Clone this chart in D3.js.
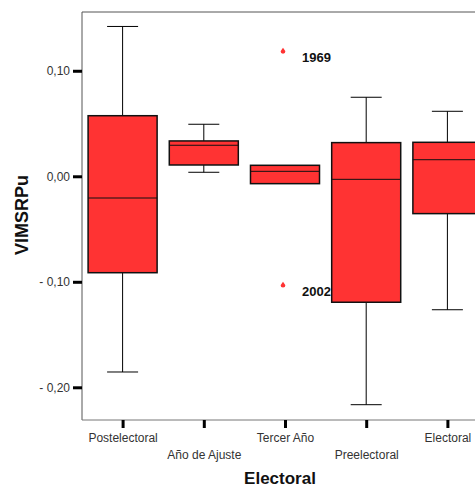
<!DOCTYPE html>
<html>
<head>
<meta charset="utf-8">
<script src="https://cdn.jsdelivr.net/npm/d3@7"></script>
<style>
  body { margin: 0; background: #fff; }
  svg { display: block; font-family: "Liberation Sans", Arial, sans-serif; }
</style>
</head>
<body>
<div id="chart"></div>
<script>
// categories and box statistics
var categories = ["Postelectoral", "Año de Ajuste", "Tercer Año", "Preelectoral", "Electoral"];
var whiskerLow  = [-0.1855, 0.0038, -0.0070, -0.2165, -0.1265];
var q1          = [-0.0914, 0.0107, -0.0070, -0.1194, -0.0354];
var medians     = [-0.0206, 0.0294,  0.0047, -0.0029,  0.0157];
var q3          = [ 0.0574, 0.0335,  0.0104,  0.0319,  0.0322];
var whiskerHigh = [ 0.1420, 0.0493,  0.0104,  0.0749,  0.0616];

var outliers = [
  { cat: "Tercer Año", value: 0.118, label: "1969" },
  { cat: "Tercer Año", value: -0.1037, label: "2002" }
];

var yTicks = [-0.20, -0.10, 0.00, 0.10];

var boxes = categories.map(function (c, i) {
  return { cat: c, lo: whiskerLow[i], q1: q1[i], med: medians[i], q3: q3[i], hi: whiskerHigh[i] };
});

var W = 475, H = 488;
var plotLeft = 82, plotTop = 12, plotBottom = 420, plotRight = 488;

var svg = d3.select("#chart").append("svg")
  .attr("width", W)
  .attr("height", H);

var y = d3.scaleLinear()
  .domain([-0.231, 0.1557])
  .range([plotBottom, plotTop]);

var x = d3.scalePoint()
  .domain(categories)
  .range([plotLeft, plotRight])
  .padding(0.5);

var boxW = x.step() * 0.85;
var capW = 31;

// frame
svg.append("path")
  .attr("d", "M" + plotLeft + "," + plotBottom + "V" + plotTop + "H" + plotRight)
  .attr("fill", "none")
  .attr("stroke", "#555")
  .attr("stroke-width", 1);
svg.append("line")
  .attr("x1", plotLeft).attr("x2", plotRight)
  .attr("y1", plotBottom).attr("y2", plotBottom)
  .attr("stroke", "#777")
  .attr("stroke-width", 1);

// y axis
var yAxis = d3.axisLeft(y)
  .tickValues(yTicks)
  .tickSize(9)
  .tickPadding(3)
  .tickFormat(function (d) { return d3.format(".2f")(d).replace(".", ",").replace("−", "- "); });

var gy = svg.append("g")
  .attr("transform", "translate(" + plotLeft + ",0)")
  .call(yAxis);
gy.select(".domain").remove();
gy.selectAll(".tick line").attr("stroke", "#000").attr("stroke-width", 3);
gy.selectAll(".tick text")
  .attr("fill", "#333")
  .style("font-size", "12px")
  .style("font-family", "Liberation Sans, Arial, sans-serif");

// x axis
var xAxis = d3.axisBottom(x)
  .tickSize(8)
  .tickPadding(5);

var gx = svg.append("g")
  .attr("transform", "translate(0," + plotBottom + ")")
  .call(xAxis);
gx.select(".domain").remove();
gx.selectAll(".tick line").attr("stroke", "#000").attr("stroke-width", 3);
gx.selectAll(".tick text")
  .attr("fill", "#333")
  .style("font-size", "12px")
  .style("font-family", "Liberation Sans, Arial, sans-serif")
  .attr("y", function (d, i) { return i % 2 === 0 ? 13 : 30; });

// boxes
var g = svg.append("g");

var item = g.selectAll(".box")
  .data(boxes)
  .enter()
  .append("g")
  .attr("class", "box");

// whiskers
item.append("line")
  .attr("x1", function (d) { return x(d.cat); })
  .attr("x2", function (d) { return x(d.cat); })
  .attr("y1", function (d) { return y(d.hi); })
  .attr("y2", function (d) { return y(d.lo); })
  .attr("stroke", "#000")
  .attr("stroke-width", 1);

item.filter(function (d) { return d.hi > d.q3; })
  .append("line")
  .attr("x1", function (d) { return x(d.cat) - capW / 2; })
  .attr("x2", function (d) { return x(d.cat) + capW / 2; })
  .attr("y1", function (d) { return y(d.hi); })
  .attr("y2", function (d) { return y(d.hi); })
  .attr("stroke", "#000")
  .attr("stroke-width", 1);

item.filter(function (d) { return d.lo < d.q1; })
  .append("line")
  .attr("x1", function (d) { return x(d.cat) - capW / 2; })
  .attr("x2", function (d) { return x(d.cat) + capW / 2; })
  .attr("y1", function (d) { return y(d.lo); })
  .attr("y2", function (d) { return y(d.lo); })
  .attr("stroke", "#000")
  .attr("stroke-width", 1);

item.append("rect")
  .attr("x", function (d) { return x(d.cat) - boxW / 2; })
  .attr("width", boxW)
  .attr("y", function (d) { return y(d.q3); })
  .attr("height", function (d) { return y(d.q1) - y(d.q3); })
  .attr("fill", "#ff3333")
  .attr("stroke", "#111")
  .attr("stroke-width", 1.5);

item.append("line")
  .attr("x1", function (d) { return x(d.cat) - boxW / 2; })
  .attr("x2", function (d) { return x(d.cat) + boxW / 2; })
  .attr("y1", function (d) { return y(d.med); })
  .attr("y2", function (d) { return y(d.med); })
  .attr("stroke", "#111")
  .attr("stroke-width", 1);

// outliers (small droplet markers)
var out = g.selectAll(".outlier")
  .data(outliers)
  .enter()
  .append("g")
  .attr("class", "outlier")
  .attr("transform", function (d) { return "translate(" + (x(d.cat) - 2) + "," + y(d.value) + ")"; });

out.append("path")
  .attr("d", "M0,-4 L2.4,-0.5 A2.4,2.4 0 1,1 -2.4,-0.5 Z")
  .attr("fill", "#ff3333");

out.append("text")
  .attr("x", 19)
  .attr("y", 10)
  .style("font-size", "13px")
  .style("font-weight", "bold")
  .attr("fill", "#111")
  .text(function (d) { return d.label; });

// axis titles
svg.append("text")
  .attr("transform", "translate(28,215) rotate(-90)")
  .attr("text-anchor", "middle")
  .style("font-size", "18px")
  .style("font-weight", "bold")
  .attr("fill", "#111")
  .text("VIMSRPu");

svg.append("text")
  .attr("x", 280)
  .attr("y", 484)
  .attr("text-anchor", "middle")
  .style("font-size", "17px")
  .style("font-weight", "bold")
  .attr("fill", "#111")
  .text("Electoral");
</script>
</body>
</html>
